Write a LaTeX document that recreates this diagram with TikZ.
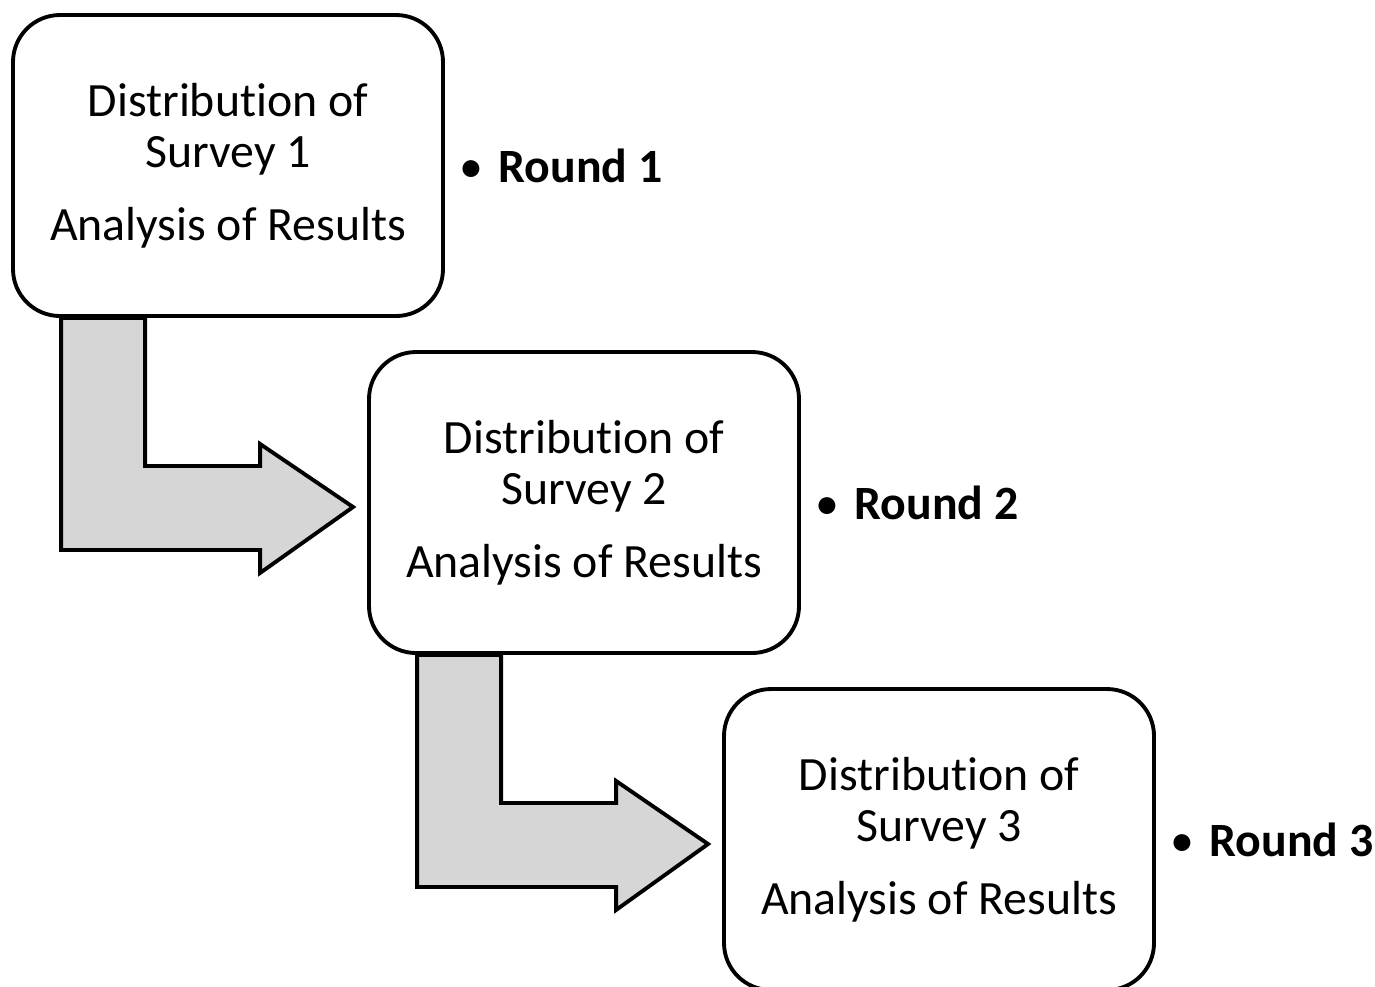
\documentclass[tikz,border=0pt]{standalone}
\usepackage{fontspec}
\setmainfont{Carlito}[Ligatures=NoCommon]
\usetikzlibrary{positioning,calc}
\definecolor{arrowgray}{RGB}{214,214,214}

\begin{document}
\begin{tikzpicture}[
	surveybox/.style={draw, line width=1.1pt, rounded corners=0.47cm, fill=white,
		minimum width=4.3cm, minimum height=3.01cm, align=center, inner sep=0pt,
		font=\fontsize{13.6}{14.7}\selectfont},
	roundlabel/.style={inner sep=0pt, font=\fontsize{13.6}{14.7}\selectfont},
	bentarrow/.style={draw, line width=1.1pt, fill=arrowgray, line join=miter}
	]
	\useasboundingbox (0,0) rectangle (13.75,-9.86);
	\clip (0,0) rectangle (13.75,-9.86);
	% survey rounds
	\node[surveybox] (s1) at (2.28,-1.655) {Distribution of\\Survey 1\\[6pt]Analysis of Results};
	\node[surveybox] (s2) at (5.84,-5.025) {Distribution of\\Survey 2\\[6pt]Analysis of Results};
	\node[surveybox] (s3) at (9.39,-8.395) {Distribution of\\Survey 3\\[6pt]Analysis of Results};
	\node[roundlabel, right=0.14cm of s1] (r1) {\textbullet\hspace{4.3pt}\textbf{Round 1}};
	\node[roundlabel, right=0.14cm of s2] (r2) {\textbullet\hspace{4.3pt}\textbf{Round 2}};
	\node[roundlabel, right=0.14cm of s3] (r3) {\textbullet\hspace{4.3pt}\textbf{Round 3}};
	% bent arrows
	\foreach \a/\b in {s1/s2, s2/s3}
	\draw[bentarrow] ($(\a.south west)+(0.50,0)$) -- ++(0,-2.32) -- ++(1.99,0) -- ++(0,-0.23)
		-- ($(\b.west)+(-0.14,-0.045)$) -- ($(\a.south west)+(2.49,-1.26)$) -- ++(0,-0.22)
		-- ++(-1.15,0) -- ($(\a.south west)+(1.34,0)$) -- cycle;
\end{tikzpicture}
\end{document}
